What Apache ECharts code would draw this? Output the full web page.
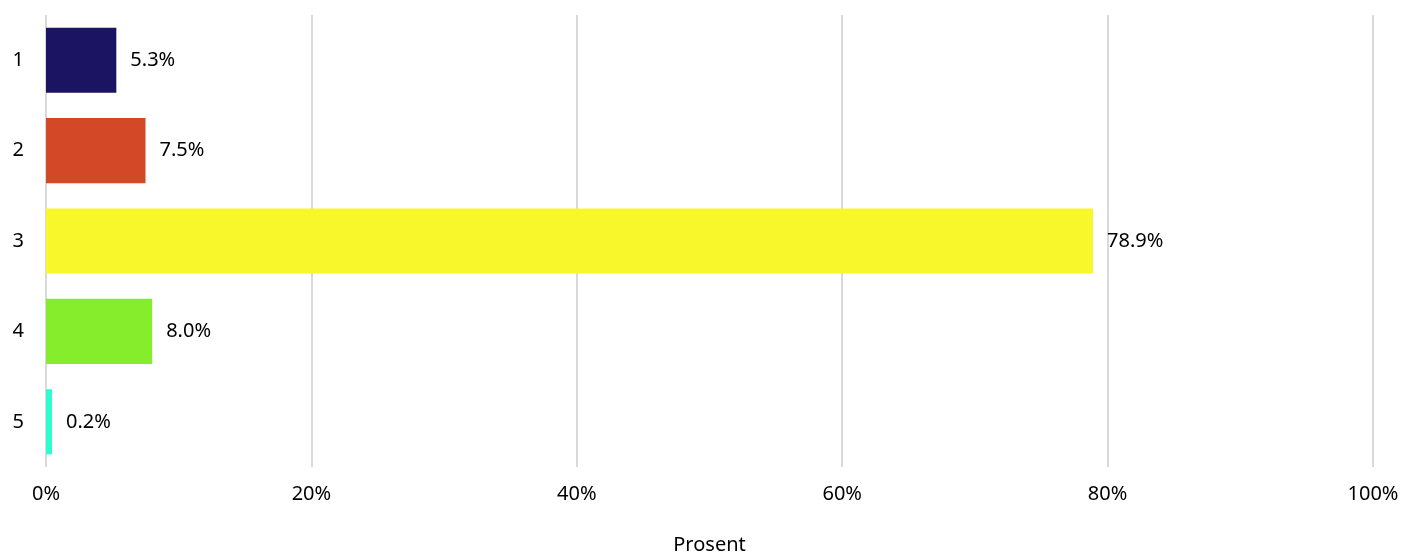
<!DOCTYPE html>
<html>
<head>
<meta charset="utf-8">
<script src="https://cdn.jsdelivr.net/npm/echarts@6/dist/echarts.min.js"></script>
<style>html,body{margin:0;padding:0;background:#fff;}#c{width:1406px;height:559px;}</style>
</head>
<body>
<div id="c"></div>
<script>
const categories = ['1', '2', '3', '4', '5'];
const values = [5.3, 7.5, 78.9, 8.0, 0.2];
const barColors = ['#1b1462', '#d34826', '#f7f72b', '#85ed2c', '#2efdd0'];
const xTicks = [0, 20, 40, 60, 80, 100];
const axisTitle = 'Prosent';

const font = '"Noto Sans", "Open Sans", sans-serif';
const chart = echarts.init(document.getElementById('c'));
chart.setOption({
  animation: false,
  grid: { left: 46, right: 33, top: 15, bottom: 92, containLabel: false, outerBoundsMode: 'none' },
  xAxis: {
    type: 'value', min: xTicks[0], max: xTicks[xTicks.length - 1], interval: 20,
    name: axisTitle, nameLocation: 'middle', nameGap: 68,
    nameTextStyle: { fontFamily: font, fontSize: 20, color: '#000' },
    axisLine: { show: false }, axisTick: { show: false },
    axisLabel: { formatter: v => v + '%', fontFamily: font, fontSize: 20, color: '#000', margin: 17 },
    splitLine: { show: true, lineStyle: { color: '#d9d9d9', width: 2 } }
  },
  yAxis: {
    type: 'category', data: categories, inverse: true,
    axisLine: { show: false }, axisTick: { show: false },
    axisLabel: { fontFamily: font, fontSize: 20, color: '#000', margin: 22 }
  },
  series: [{
    type: 'bar',
    data: values.map((v, i) => ({ value: v, itemStyle: { color: barColors[i] } })),
    barCategoryGap: '28%',
    barMinHeight: 6,
    label: {
      show: true, position: 'right', distance: 14,
      formatter: p => p.value.toFixed(1) + '%',
      fontFamily: font, fontSize: 20, color: '#000'
    }
  }]
});
</script>
</body>
</html>
